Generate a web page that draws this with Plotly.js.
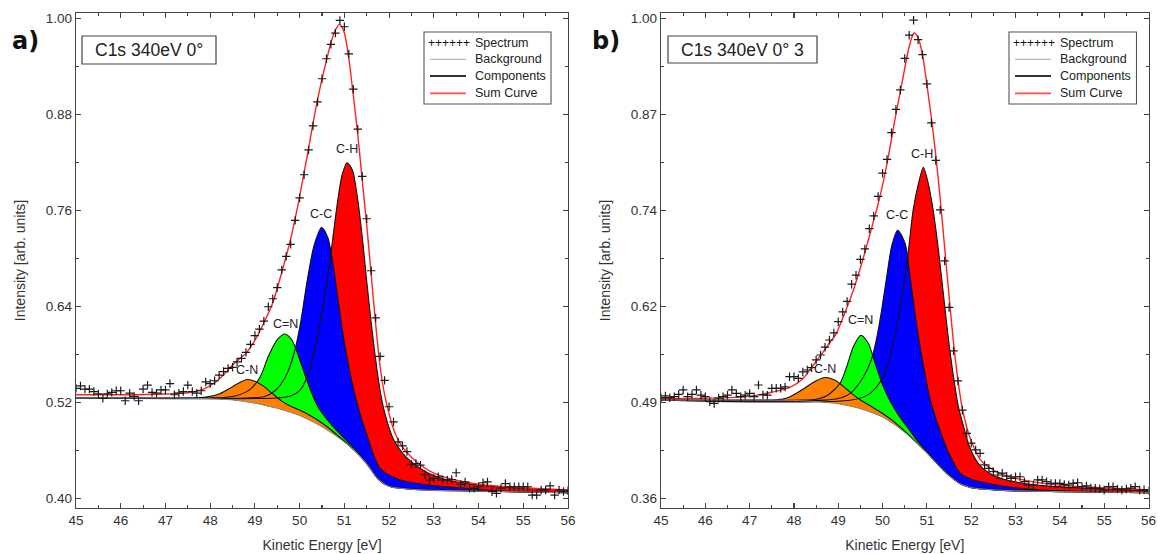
<!DOCTYPE html>
<html>
<head>
<meta charset="utf-8">
<script src="https://cdn.plot.ly/plotly-3.0.1.min.js"></script>
<style>
  html, body { margin: 0; padding: 0; background: #ffffff; }
  #chart { width: 1158px; height: 554px; }
</style>
</head>
<body>
<div id="chart"></div>
<script>
// ---------- measured spectra (kinetic energy grid, 0.1 eV step) ----------
const energy = [
  45.0,45.1,45.2,45.3,45.4,45.5,45.6,45.7,45.8,45.9,
  46.0,46.1,46.2,46.3,46.4,46.5,46.6,46.7,46.8,46.9,
  47.0,47.1,47.2,47.3,47.4,47.5,47.6,47.7,47.8,47.9,
  48.0,48.1,48.2,48.3,48.4,48.5,48.6,48.7,48.8,48.9,
  49.0,49.1,49.2,49.3,49.4,49.5,49.6,49.7,49.8,49.9,
  50.0,50.1,50.2,50.3,50.4,50.5,50.6,50.7,50.8,50.9,
  51.0,51.1,51.2,51.3,51.4,51.5,51.6,51.7,51.8,51.9,
  52.0,52.1,52.2,52.3,52.4,52.5,52.6,52.7,52.8,52.9,
  53.0,53.1,53.2,53.3,53.4,53.5,53.6,53.7,53.8,53.9,
  54.0,54.1,54.2,54.3,54.4,54.5,54.6,54.7,54.8,54.9,
  55.0,55.1,55.2,55.3,55.4,55.5,55.6,55.7,55.8,55.9,
  56.0
];

const spectrumA = [
  0.538,0.541,0.537,0.537,0.534,0.531,0.5255,0.531,0.533,0.535,
  0.535,0.5225,0.532,0.528,0.5225,0.537,0.542,0.533,0.532,0.536,
  0.536,0.544,0.530,0.532,0.534,0.542,0.534,0.532,0.535,0.546,
  0.544,0.5475,0.5545,0.559,0.563,0.5643,0.571,0.5755,0.583,0.593,
  0.604,0.612,0.622,0.640,0.650,0.664,0.686,0.703,0.718,0.748,
  0.776,0.805,0.836,0.866,0.896,0.925,0.950,0.968,0.982,0.998,
  0.990,0.956,0.912,0.862,0.803,0.750,0.685,0.626,0.578,0.548,
  0.515,0.496,0.471,0.466,0.459,0.443,0.444,0.442,0.430,0.4234,
  0.4255,0.4275,0.4234,0.4234,0.424,0.4325,0.418,0.421,0.413,0.413,
  0.415,0.420,0.421,0.4088,0.4067,0.413,0.419,0.415,0.415,0.415,
  0.415,0.415,0.4046,0.4046,0.411,0.411,0.416,0.4046,0.411,0.409,
  0.410
];

const spectrumB = [
  0.4947,0.497,0.4947,0.496,0.499,0.505,0.496,0.499,0.505,0.498,
  0.496,0.4893,0.487,0.494,0.496,0.498,0.505,0.5005,0.496,0.498,
  0.5005,0.496,0.5116,0.4985,0.498,0.5072,0.5072,0.5072,0.509,0.5227,
  0.5227,0.5205,0.529,0.5316,0.5347,0.545,0.5516,0.562,0.5716,0.581,
  0.596,0.609,0.623,0.646,0.658,0.679,0.693,0.720,0.737,0.763,
  0.794,0.8125,0.848,0.879,0.905,0.947,0.978,0.998,0.972,0.952,
  0.913,0.861,0.811,0.745,0.677,0.615,0.557,0.517,0.478,0.447,
  0.434,0.425,0.4205,0.405,0.4005,0.396,0.3916,0.394,0.390,0.3872,
  0.3893,0.3893,0.3827,0.3783,0.3783,0.385,0.385,0.3827,0.3805,0.3805,
  0.3805,0.379,0.3783,0.3805,0.3813,0.376,0.377,0.3745,0.374,0.3735,
  0.3716,0.376,0.376,0.373,0.3716,0.373,0.374,0.376,0.3716,0.372,
  0.3705
];

// ---------- fit curves, panel a ----------
const bgA_x = [45, 47, 48, 48.5, 49, 49.5, 50, 50.5, 51, 51.25, 51.5, 51.75, 52, 52.5, 53, 54, 55, 56];
const bgA_y = [0.526, 0.526, 0.525, 0.5235, 0.5195, 0.513, 0.504, 0.490, 0.471, 0.459, 0.444, 0.425, 0.4155, 0.4118, 0.4105, 0.4095, 0.4085, 0.4075];

const chA_x = [45, 49.5, 49.8, 50.0, 50.17, 50.32, 50.47, 50.62, 50.74, 50.85, 50.95, 51.06, 51.18, 51.29, 51.4, 51.5, 51.6, 51.7, 51.8, 51.9, 52.1, 52.3, 52.5, 52.78, 53.0, 53.3, 53.7, 54.2, 54.8, 55.4, 56];
const chA_y = [0.526, 0.526, 0.5285, 0.535, 0.5525, 0.582, 0.623, 0.673, 0.725, 0.772, 0.805, 0.82, 0.811, 0.7775, 0.7275, 0.672, 0.62, 0.574, 0.535, 0.508, 0.474, 0.457, 0.446, 0.435, 0.429, 0.4235, 0.4195, 0.416, 0.4138, 0.4122, 0.4108];

const ccA_x = [45, 48.8, 49.2, 49.45, 49.65, 49.8, 49.92, 50.03, 50.17, 50.32, 50.49, 50.63, 50.75, 50.88, 51.0, 51.15, 51.3, 51.5, 51.8, 52.25, 52.9, 53.7, 54.5, 55, 56];
const ccA_y = [0.526, 0.526, 0.5275, 0.535, 0.549, 0.568, 0.592, 0.623, 0.673, 0.716, 0.739, 0.7265, 0.692, 0.64, 0.595, 0.551, 0.516, 0.48, 0.438, 0.4234, 0.417, 0.413, 0.4095, 0.4085, 0.4075];

const cnDoubleA_x = [45, 48, 48.3, 48.6, 48.9, 49.12, 49.3, 49.5, 49.67, 49.82, 49.95, 50.1, 50.25, 50.4, 50.6, 50.8, 51.0, 51.25, 51.5, 51.75, 52, 52.5, 53, 54, 55, 56];
const cnDoubleA_y = [0.526, 0.526, 0.5265, 0.529, 0.537, 0.5525, 0.578, 0.599, 0.606, 0.599, 0.582, 0.558, 0.535, 0.516, 0.500, 0.487, 0.4755, 0.461, 0.444, 0.425, 0.4155, 0.4118, 0.4105, 0.4095, 0.4085, 0.4075];

const cnSingleA_x = [45, 47, 47.6, 47.9, 48.2, 48.45, 48.65, 48.83, 49.0, 49.2, 49.4, 49.6, 49.8, 50.1, 50.45, 50.8, 51.25, 51.5, 51.75, 52, 52.5, 53, 54, 55, 56];
const cnSingleA_y = [0.526, 0.526, 0.526, 0.527, 0.531, 0.5385, 0.545, 0.549, 0.547, 0.5405, 0.531, 0.522, 0.5155, 0.508, 0.4965, 0.4815, 0.459, 0.444, 0.425, 0.4155, 0.4118, 0.4105, 0.4095, 0.4085, 0.4075];

const sumA_x = [45, 46, 47, 47.5, 47.85, 48.1, 48.3, 48.55, 48.8, 49.0, 49.2, 49.4, 49.6, 49.8, 49.94, 50.1, 50.2, 50.33, 50.45, 50.6, 50.7, 50.8, 50.9, 51.0, 51.1, 51.2, 51.3, 51.4, 51.5, 51.6, 51.7, 51.8, 51.9, 52.0, 52.1, 52.26, 52.5, 52.78, 53.0, 53.3, 53.68, 54.2, 54.8, 55.4, 56];
const sumA_y = [0.530, 0.530, 0.531, 0.5325, 0.537, 0.545, 0.555, 0.570, 0.582, 0.598, 0.62, 0.645, 0.683, 0.725, 0.761, 0.808, 0.838, 0.879, 0.912, 0.948, 0.97, 0.986, 0.993, 0.982, 0.95, 0.904, 0.855, 0.798, 0.742, 0.68, 0.618, 0.565, 0.53, 0.506, 0.487, 0.468, 0.452, 0.439, 0.432, 0.426, 0.421, 0.417, 0.4145, 0.4125, 0.411];

// ---------- fit curves, panel b ----------
const bgB_x = [45, 47, 48, 48.5, 49, 49.5, 50, 50.5, 51, 51.25, 51.5, 51.75, 52, 52.5, 53, 54, 55, 56];
const bgB_y = [0.4915, 0.4915, 0.491, 0.4895, 0.4865, 0.480, 0.4688, 0.4485, 0.421, 0.4055, 0.391, 0.380, 0.3748, 0.3718, 0.3705, 0.3695, 0.3687, 0.368];

const chB_x = [45, 49.3, 49.72, 50.02, 50.24, 50.39, 50.51, 50.6, 50.69, 50.81, 50.92, 51.03, 51.14, 51.26, 51.37, 51.48, 51.6, 51.71, 51.82, 51.97, 52.2, 52.5, 52.87, 53.6, 54.75, 56];
const chB_y = [0.4915, 0.4915, 0.5005, 0.5227, 0.567, 0.6116, 0.656, 0.70, 0.745, 0.7805, 0.802, 0.7805, 0.745, 0.6917, 0.634, 0.576, 0.5227, 0.4827, 0.458, 0.428, 0.404, 0.391, 0.384, 0.3775, 0.3737, 0.3705];

const ccB_x = [45, 48.7, 49.0, 49.27, 49.57, 49.75, 49.87, 49.98, 50.09, 50.21, 50.34, 50.51, 50.6, 50.69, 50.81, 50.96, 51.07, 51.3, 51.5, 51.75, 52.0, 52.5, 53.0, 53.5, 54.5, 55, 56];
const ccB_y = [0.4915, 0.4915, 0.4935, 0.5005, 0.5227, 0.546, 0.575, 0.612, 0.655, 0.698, 0.718, 0.70, 0.665, 0.625, 0.575, 0.525, 0.493, 0.45, 0.42, 0.394, 0.386, 0.379, 0.3745, 0.372, 0.3697, 0.3688, 0.368];

const cnDoubleB_x = [45, 48.2, 48.5, 48.75, 49.04, 49.19, 49.34, 49.51, 49.68, 49.83, 50.02, 50.2, 50.4, 50.6, 50.8, 51.0, 51.25, 51.5, 51.75, 52, 52.5, 53, 54, 55, 56];
const cnDoubleB_y = [0.4915, 0.4915, 0.4925, 0.4975, 0.514, 0.536, 0.5627, 0.578, 0.567, 0.5405, 0.509, 0.487, 0.468, 0.452, 0.436, 0.4225, 0.4058, 0.391, 0.380, 0.3748, 0.3718, 0.3705, 0.3695, 0.3687, 0.368];

const cnSingleB_x = [45, 47, 47.6, 47.86, 48.19, 48.5, 48.71, 48.94, 49.19, 49.44, 49.7, 50.0, 50.28, 50.6, 51.0, 51.25, 51.5, 51.75, 52, 52.5, 53, 54, 55, 56];
const cnSingleB_y = [0.4915, 0.4915, 0.4918, 0.4945, 0.5055, 0.5172, 0.5216, 0.5175, 0.506, 0.494, 0.4845, 0.4735, 0.4615, 0.4445, 0.421, 0.4055, 0.391, 0.380, 0.3748, 0.3718, 0.3705, 0.3695, 0.3687, 0.368];

const sumB_x = [45, 46, 47, 47.5, 47.9, 48.2, 48.5, 48.75, 48.95, 49.13, 49.34, 49.53, 49.72, 49.93, 50.11, 50.28, 50.45, 50.6, 50.71, 50.8, 50.9, 51.0, 51.1, 51.2, 51.3, 51.4, 51.5, 51.6, 51.7, 51.8, 51.9, 52.0, 52.2, 52.5, 52.87, 53.62, 54.75, 56];
const sumB_y = [0.4935, 0.494, 0.4965, 0.502, 0.508, 0.52, 0.543, 0.563, 0.58, 0.605, 0.638, 0.674, 0.714, 0.76, 0.81, 0.866, 0.918, 0.963, 0.981, 0.975, 0.952, 0.912, 0.868, 0.818, 0.76, 0.695, 0.63, 0.568, 0.518, 0.48, 0.455, 0.437, 0.4125, 0.398, 0.3893, 0.3805, 0.3752, 0.3716];

// ---------- labels ----------
const componentNames = ['C-H', 'C-C', 'C=N', 'C-N'];
const componentColors = ['#ff0000', '#0000ff', '#00ff00', '#ff8000'];
const labelPosA = [[51.06, 0.837], [50.48, 0.756], [49.68, 0.619], [48.82, 0.561]];
const labelPosB = [[50.88, 0.820], [50.32, 0.738], [49.51, 0.598], [48.69, 0.533]];
const sampleNames = ['C1s 340eV 0°', 'C1s 340eV 0° 3'];
const panelTags = ['a)', 'b)'];
const legendNames = ['Spectrum', 'Background', 'Components', 'Sum Curve'];
const xTitle = 'Kinetic Energy [eV]';
const yTitle = 'Intensity [arb. units]';

// ---------- drawing ----------
const W = 1158, H = 554;
const px = v => v / W;
const py = v => 1 - v / H;
const SMOOTH = 0.75;

function panel(xa, ya, bg, comps, sum, spec) {
  const t = [];
  // filled areas between each component and the background (C-H first, C-N on top)
  comps.forEach((c, i) => {
    t.push({x: bg[0], y: bg[1], xaxis: xa, yaxis: ya, mode: 'lines', hoverinfo: 'skip',
            line: {width: 0, shape: 'spline', smoothing: SMOOTH}});
    t.push({x: c[0], y: c[1], xaxis: xa, yaxis: ya, mode: 'lines', hoverinfo: 'skip',
            fill: 'tonexty', fillcolor: componentColors[i],
            line: {width: 0, shape: 'spline', smoothing: SMOOTH}});
  });
  // component outlines above every fill
  comps.forEach(c => {
    t.push({x: c[0], y: c[1], xaxis: xa, yaxis: ya, mode: 'lines', hoverinfo: 'skip',
            line: {color: '#111111', width: 1.1, shape: 'spline', smoothing: SMOOTH}});
  });
  t.push({x: bg[0], y: bg[1], xaxis: xa, yaxis: ya, mode: 'lines', name: 'Background',
          line: {color: '#8a8a8a', width: 1, shape: 'spline', smoothing: SMOOTH}});
  t.push({x: sum[0], y: sum[1], xaxis: xa, yaxis: ya, mode: 'lines', name: 'Sum Curve',
          line: {color: '#ff2020', width: 1.4, shape: 'spline', smoothing: SMOOTH}});
  t.push({x: energy, y: spec, xaxis: xa, yaxis: ya, mode: 'markers', name: 'Spectrum',
          marker: {symbol: 'cross-thin', size: 6, color: '#1a1a1a', line: {width: 1.2, color: '#1a1a1a'}}});
  return t;
}

const traces = [].concat(
  panel('x', 'y', [bgA_x, bgA_y],
        [[chA_x, chA_y], [ccA_x, ccA_y], [cnDoubleA_x, cnDoubleA_y], [cnSingleA_x, cnSingleA_y]],
        [sumA_x, sumA_y], spectrumA),
  panel('x2', 'y2', [bgB_x, bgB_y],
        [[chB_x, chB_y], [ccB_x, ccB_y], [cnDoubleB_x, cnDoubleB_y], [cnSingleB_x, cnSingleB_y]],
        [sumB_x, sumB_y], spectrumB)
);

const FONT = '"Liberation Sans", Arial, sans-serif';
function xAxis(domain, anchor) {
  return {
    domain: domain, anchor: anchor, range: [45, 56], tick0: 45, dtick: 1,
    showgrid: false, zeroline: false, showline: true, linecolor: '#444', linewidth: 1.3, mirror: 'ticks',
    ticks: 'inside', ticklen: 5, tickwidth: 1.1, tickcolor: '#444',
    minor: {ticks: 'inside', ticklen: 3, dtick: 0.5, tick0: 45, tickcolor: '#444', showgrid: false},
    tickfont: {family: FONT, size: 13.5, color: '#333'},
    title: {text: xTitle, font: {family: FONT, size: 14, color: '#333'}, standoff: 13},
    automargin: false
  };
}
function yAxis(domain, anchor, range, tick0, dtick) {
  return {
    domain: domain, anchor: anchor, range: range, tick0: tick0, dtick: dtick, tickformat: '.2f',
    showgrid: false, zeroline: false, showline: true, linecolor: '#444', linewidth: 1.3, mirror: 'ticks',
    ticks: 'inside', ticklen: 5, tickwidth: 1.1, tickcolor: '#444',
    minor: {ticks: 'inside', ticklen: 3, dtick: dtick / 2, tick0: tick0, tickcolor: '#444', showgrid: false},
    tickfont: {family: FONT, size: 13.5, color: '#333'},
    title: {text: yTitle, font: {family: FONT, size: 14, color: '#333'}, standoff: 16},
    automargin: false
  };
}

const plotTop = 13.3, plotBottom = 507.7;
const yDomain = [py(plotBottom), py(plotTop)];

const shapes = [];
const annotations = [];

function decorate(left, tag, sample, sampleBox, legendBox, xref, yref, labelPos) {
  // panel tag
  annotations.push({xref: 'paper', yref: 'paper', x: px(left), y: py(41), xanchor: 'left', yanchor: 'middle',
    text: '<b>' + tag + '</b>', showarrow: false, font: {family: '"DejaVu Sans", sans-serif', size: 24, color: '#111'}});
  // sample name box
  shapes.push({type: 'rect', xref: 'paper', yref: 'paper', x0: px(sampleBox[0]), x1: px(sampleBox[1]),
    y0: py(sampleBox[2]), y1: py(sampleBox[3]), line: {color: '#444', width: 1.2}, fillcolor: '#fff'});
  annotations.push({xref: 'paper', yref: 'paper', x: px((sampleBox[0] + sampleBox[1]) / 2), y: py((sampleBox[2] + sampleBox[3]) / 2),
    xanchor: 'center', yanchor: 'middle', text: sample, showarrow: false,
    font: {family: FONT, size: 17.5, color: '#222'}});
  // legend
  const [lx0, lx1, ly0, ly1] = legendBox;
  shapes.push({type: 'rect', xref: 'paper', yref: 'paper', x0: px(lx0), x1: px(lx1), y0: py(ly0), y1: py(ly1),
    line: {color: '#555', width: 1.1}, fillcolor: '#fff'});
  const rows = [ly0 + 10.7, ly0 + 27.3, ly0 + 44, ly0 + 61.3];
  const symX0 = lx0 + 6, symX1 = lx0 + 42, textX = lx0 + 49;
  annotations.push({xref: 'paper', yref: 'paper', x: px(lx0 + 1.5), y: py(rows[0]), xanchor: 'left', yanchor: 'middle',
    text: '++++++', showarrow: false, font: {family: FONT, size: 12, color: '#111'}});
  const lineStyles = [null, {color: '#a8a8a8', width: 1}, {color: '#333', width: 1.8}, {color: '#ff5050', width: 1.8}];
  legendNames.forEach((name, i) => {
    if (lineStyles[i]) {
      shapes.push({type: 'line', xref: 'paper', yref: 'paper', x0: px(symX0), x1: px(symX1),
        y0: py(rows[i]), y1: py(rows[i]), line: lineStyles[i]});
    }
    annotations.push({xref: 'paper', yref: 'paper', x: px(textX), y: py(rows[i]), xanchor: 'left', yanchor: 'middle',
      text: name, showarrow: false, font: {family: FONT, size: 12.5, color: '#222'}});
  });
  // component labels
  componentNames.forEach((name, i) => {
    annotations.push({xref: xref, yref: yref, x: labelPos[i][0], y: labelPos[i][1], xanchor: 'center', yanchor: 'middle',
      text: name, showarrow: false, font: {family: FONT, size: 12.5, color: '#222'}});
  });
}

decorate(10, panelTags[0], sampleNames[0], [82, 216, 36, 64], [424, 551, 32, 104], 'x', 'y', labelPosA);
decorate(590, panelTags[1], sampleNames[1], [668, 817, 36, 63], [1009, 1136.5, 32, 104], 'x2', 'y2', labelPosB);

const layout = {
  width: W, height: H, margin: {l: 0, r: 0, t: 0, b: 0},
  paper_bgcolor: '#ffffff', plot_bgcolor: '#ffffff', showlegend: false,
  font: {family: FONT, color: '#333'},
  xaxis: xAxis([px(76), px(568)], 'y'),
  yaxis: yAxis(yDomain, 'x', [0.3888, 1.0068], 0.40, 0.12),
  xaxis2: xAxis([px(661), px(1148.5)], 'y2'),
  yaxis2: yAxis(yDomain, 'x2', [0.348, 1.0072], 0.36, 0.128),
  shapes: shapes,
  annotations: annotations
};

Plotly.newPlot('chart', traces, layout, {staticPlot: true, displayModeBar: false});
</script>
</body>
</html>
